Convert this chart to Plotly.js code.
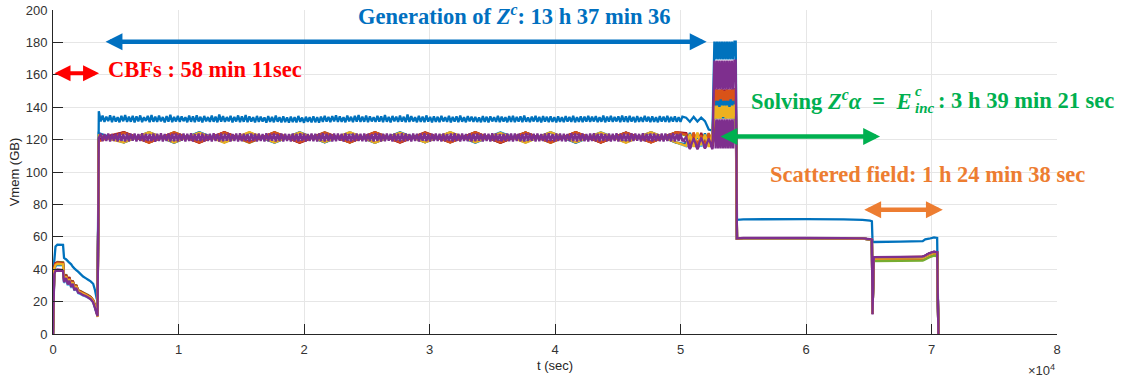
<!DOCTYPE html>
<html>
<head>
<meta charset="utf-8">
<script src="https://cdn.plot.ly/plotly-3.0.1.min.js"></script>
<style>
  html, body { margin: 0; padding: 0; background: #ffffff; }
  #chart { width: 1136px; height: 382px; }
</style>
</head>
<body>
<div id="chart"></div>
<script>
// ---- Memory usage per process (GB) over wall-clock time (s) ----

// Phase 1: CBF computation
const tCbf = [0, 100, 200, 350, 800, 880, 1050, 1180, 1300, 1450, 1580, 1700, 1850, 2000, 2200, 2400, 2600, 2800, 3000, 3200, 3350, 3480, 3550];
const cbfVals = [
  [0, 45, 54, 55.2, 55, 47, 46, 45, 44, 43, 41.5, 40.5, 39.5, 38.5, 37, 35.5, 34.5, 33.5, 32.5, 31, 27, 22, 20.5],
  [0, 41, 43.5, 44, 43.8, 34, 36, 32, 34.5, 30.5, 32.5, 28.5, 30, 26.8, 26, 25.2, 24.5, 23.6, 22.8, 20.8, 17.5, 14, 12.2],
  [0, 40, 42.8, 43.5, 43.2, 33.5, 35.6, 31.5, 34, 30, 32, 28, 29.6, 26.5, 25.8, 25, 24.2, 23.3, 22.4, 20.5, 17, 13.5, 10.8],
  [0, 37.5, 39.5, 39.8, 39.5, 32.5, 35, 31, 33.5, 29.5, 31.5, 27.5, 29, 26, 25.5, 24.5, 24, 23, 22, 20, 16.5, 13, 11.5],
  [0, 40.5, 43, 44.5, 44.2, 35, 36.8, 32.8, 35, 31, 33, 29, 30.5, 27, 26.5, 25.6, 24.8, 24, 23, 21, 18, 14.5, 12.5],
  [0, 39, 42, 42.5, 42.3, 31.5, 34, 30, 32.5, 28.5, 30.8, 26.8, 28.2, 25.2, 24.6, 23.8, 23.2, 22.4, 21.6, 19.6, 16, 12.8, 11.5],
  [0, 41.5, 43.8, 44.2, 43.9, 34.5, 36.5, 32.5, 35.2, 31, 32.8, 28.8, 30.2, 26.9, 26.2, 25.4, 24.6, 23.8, 22.8, 20.8, 17.2, 13.8, 12],
  [0, 39.5, 42.2, 43, 42.8, 32.8, 35.2, 31.2, 33.8, 29.8, 31.8, 27.8, 29.3, 26.2, 25.5, 24.7, 24, 23.1, 22.2, 20.2, 16.8, 13.2, 11.8],
  [0, 40.8, 43.2, 43.8, 43.5, 33.8, 35.8, 31.8, 34.2, 30.2, 32.2, 28.2, 29.8, 26.6, 25.9, 25.1, 24.3, 23.4, 22.6, 20.6, 17.3, 13.6, 11.2],
  [0, 40.2, 42.6, 43.3, 43, 33.2, 35.4, 31.4, 33.9, 29.9, 31.9, 27.9, 29.4, 26.3, 25.6, 24.8, 24.1, 23.2, 22.3, 20.3, 16.9, 13.4, 10.5],
  [0, 37, 39, 39.2, 39, 32, 34.5, 30.5, 33, 29, 31, 27, 28.5, 25.5, 25, 24, 23.5, 22.5, 21.5, 19.5, 16, 12.5, 11]
];

// Phase 2: generation of the coupling matrix, fine sampling (first and last process)
const tGen = [
  3650, 3800, 3950, 4100, 4250, 4400, 4550, 4700, 4850, 5000, 5150, 5300, 5450, 5600, 5750, 5900, 6050, 6200, 6350, 6500,
  6650, 6800, 6950, 7100, 7250, 7400, 7550, 7700, 7850, 8000, 8150, 8300, 8450, 8600, 8750, 8900, 9050, 9200, 9350, 9500,
  9650, 9800, 9950, 10100, 10250, 10400, 10550, 10700, 10850, 11000, 11150, 11300, 11450, 11600, 11750, 11900, 12050, 12200, 12350, 12500,
  12650, 12800, 12950, 13100, 13250, 13400, 13550, 13700, 13850, 14000, 14150, 14300, 14450, 14600, 14750, 14900, 15050, 15200, 15350, 15500,
  15650, 15800, 15950, 16100, 16250, 16400, 16550, 16700, 16850, 17000, 17150, 17300, 17450, 17600, 17750, 17900, 18050, 18200, 18350, 18500,
  18650, 18800, 18950, 19100, 19250, 19400, 19550, 19700, 19850, 20000, 20150, 20300, 20450, 20600, 20750, 20900, 21050, 21200, 21350, 21500,
  21650, 21800, 21950, 22100, 22250, 22400, 22550, 22700, 22850, 23000, 23150, 23300, 23450, 23600, 23750, 23900, 24050, 24200, 24350, 24500,
  24650, 24800, 24950, 25100, 25250, 25400, 25550, 25700, 25850, 26000, 26150, 26300, 26450, 26600, 26750, 26900, 27050, 27200, 27350, 27500,
  27650, 27800, 27950, 28100, 28250, 28400, 28550, 28700, 28850, 29000, 29150, 29300, 29450, 29600, 29750, 29900, 30050, 30200, 30350, 30500,
  30650, 30800, 30950, 31100, 31250, 31400, 31550, 31700, 31850, 32000, 32150, 32300, 32450, 32600, 32750, 32900, 33050, 33200, 33350, 33500,
  33650, 33800, 33950, 34100, 34250, 34400, 34550, 34700, 34850, 35000, 35150, 35300, 35450, 35600, 35750, 35900, 36050, 36200, 36350, 36500,
  36650, 36800, 36950, 37100, 37250, 37400, 37550, 37700, 37850, 38000, 38150, 38300, 38450, 38600, 38750, 38900, 39050, 39200, 39350, 39500,
  39650, 39800, 39950, 40100, 40250, 40400, 40550, 40700, 40850, 41000, 41150, 41300, 41450, 41600, 41750, 41900, 42050, 42200, 42350, 42500,
  42650, 42800, 42950, 43100, 43250, 43400, 43550, 43700, 43850, 44000, 44150, 44300, 44450, 44600, 44750, 44900, 45050, 45200, 45350, 45500,
  45650, 45800, 45950, 46100, 46250, 46400, 46550, 46700, 46850, 47000, 47150, 47300, 47450, 47600, 47750, 47900, 48050, 48200, 48350, 48500,
  48650, 48800, 48950, 49100, 49250, 49400, 49550, 49700, 49850, 50000, 50150
];
const genTop = [
  137.5, 131.2, 134.8, 130.9, 134.2, 131.4, 135.0, 130.8, 134.5, 131.1, 133.9, 130.7, 134.6, 131.3, 135.2, 130.9, 134.1, 131.0, 134.7, 130.6,
  134.3, 131.2, 134.9, 130.8, 133.8, 131.5, 134.6, 130.7, 135.1, 131.0, 134.2, 130.9, 134.8, 131.3, 133.9, 130.6, 134.5, 131.1, 135.3, 130.8,
  134.0, 131.2, 134.7, 130.9, 134.3, 131.4, 133.8, 130.7, 134.9, 131.0, 134.4, 130.8, 135.0, 131.2, 134.1, 130.6, 134.6, 131.3, 133.9, 130.9,
  134.8, 131.0, 134.2, 130.7, 135.4, 131.1, 134.5, 130.9, 133.9, 131.3, 134.7, 130.6, 134.0, 131.2, 134.9, 130.8, 134.3, 131.0, 135.1, 130.7,
  134.4, 131.1, 133.8, 130.6, 134.6, 130.9, 134.1, 131.2, 133.7, 130.5, 134.5, 130.9, 134.0, 130.7, 134.8, 131.0, 133.9, 130.6, 134.3, 130.8,
  133.7, 130.5, 134.2, 130.8, 133.9, 130.6, 134.6, 131.0, 133.6, 130.4, 134.1, 130.9, 133.8, 130.6, 134.4, 130.7, 133.9, 130.5, 134.2, 130.9,
  134.7, 131.1, 134.0, 130.8, 134.5, 131.2, 135.0, 130.9, 134.3, 131.0, 133.9, 130.7, 134.8, 131.3, 134.1, 130.8, 134.6, 131.1, 135.2, 130.9,
  134.2, 131.0, 134.9, 130.7, 134.4, 131.2, 133.9, 130.9, 134.7, 131.1, 134.3, 130.8, 135.1, 131.0, 134.0, 130.6, 134.6, 131.3, 134.2, 130.9,
  134.8, 131.1, 134.1, 130.8, 135.4, 130.9, 134.5, 131.2, 133.8, 130.7, 134.6, 131.0, 134.2, 130.8, 134.9, 131.1, 134.0, 130.6, 134.4, 131.0,
  134.1, 130.8, 134.6, 131.2, 133.9, 130.9, 134.7, 130.6, 134.0, 131.1, 134.4, 130.8, 134.9, 131.0, 133.8, 130.7, 134.5, 131.2, 134.2, 130.9,
  134.0, 130.9, 133.7, 130.7, 134.5, 131.0, 134.1, 130.6, 134.4, 131.2, 133.9, 130.9, 134.6, 130.8, 134.2, 131.1, 133.8, 130.7, 134.5, 131.0,
  134.6, 130.8, 134.0, 131.1, 134.3, 130.7, 134.8, 131.0, 133.7, 130.8, 134.2, 131.2, 134.7, 130.9, 134.0, 130.6, 134.5, 131.1, 134.1, 130.8,
  134.4, 130.9, 133.9, 130.6, 134.3, 131.0, 133.8, 130.8, 134.5, 131.1, 134.0, 130.9, 134.6, 130.7, 133.9, 131.0, 134.4, 130.8, 134.2, 131.1,
  134.7, 130.9, 134.1, 131.2, 134.5, 130.8, 133.9, 131.0, 134.8, 130.7, 134.2, 131.1, 134.6, 130.9, 134.0, 131.2, 134.4, 130.8, 134.9, 131.0,
  134.3, 130.8, 134.6, 131.1, 134.0, 130.7, 134.5, 131.0, 133.9, 130.9, 134.7, 131.2, 134.1, 130.8, 134.4, 131.0, 133.8, 130.7, 134.5, 131.1,
  134.2, 130.9, 134.6, 130.8, 134.0, 131.1, 134.3, 130.9, 133.9, 131.0, 134.2
];
const genLast = [
  121.0, 123.7, 119.0, 123.5, 119.2, 123.8, 118.8, 123.4, 119.1, 123.6, 118.9, 123.9, 119.2, 123.5, 118.8, 123.7, 119.0, 123.6, 119.3, 123.8,
  118.9, 123.5, 119.1, 123.9, 118.8, 123.6, 119.2, 123.4, 119.0, 123.8, 118.7, 123.6, 119.1, 123.9, 118.9, 123.5, 119.2, 123.7, 118.8, 123.6,
  119.0, 123.8, 118.9, 123.5, 119.3, 123.7, 118.8, 123.6, 119.1, 123.9, 118.9, 123.4, 119.2, 123.7, 119.0, 123.8, 118.8, 123.5, 119.1, 123.6,
  118.9, 123.9, 119.2, 123.5, 118.8, 123.7, 119.0, 123.6, 119.3, 123.8, 118.9, 123.5, 119.1, 123.7, 118.8, 123.9, 119.0, 123.6, 119.2, 123.4,
  118.8, 123.7, 119.1, 123.6, 118.9, 123.8, 119.2, 123.5, 118.8, 123.9, 119.0, 123.6, 119.3, 123.7, 118.9, 123.5, 119.1, 123.8, 118.8, 123.6,
  119.2, 123.5, 118.9, 123.8, 119.0, 123.6, 118.8, 123.9, 119.1, 123.7, 118.9, 123.5, 119.2, 123.8, 119.0, 123.6, 118.8, 123.7, 119.1, 123.9,
  118.9, 123.6, 119.2, 123.5, 118.8, 123.8, 119.0, 123.7, 119.3, 123.6, 118.9, 123.9, 119.1, 123.5, 118.8, 123.7, 119.0, 123.8, 119.2, 123.6,
  119.0, 123.8, 118.8, 123.6, 119.1, 123.5, 118.9, 123.9, 119.2, 123.7, 118.8, 123.6, 119.0, 123.8, 119.3, 123.5, 118.9, 123.7, 119.1, 123.6,
  118.8, 123.9, 119.0, 123.7, 119.2, 123.5, 118.9, 123.8, 119.1, 123.6, 118.8, 123.7, 119.3, 123.9, 119.0, 123.5, 118.9, 123.6, 119.2, 123.8,
  119.1, 123.6, 118.9, 123.8, 119.0, 123.5, 119.2, 123.7, 118.8, 123.9, 119.1, 123.6, 118.9, 123.8, 119.2, 123.5, 119.0, 123.7, 118.8, 123.6,
  119.0, 123.7, 119.3, 123.5, 118.9, 123.8, 119.1, 123.6, 118.8, 123.9, 119.0, 123.7, 119.2, 123.5, 118.9, 123.6, 119.1, 123.8, 119.0, 123.7,
  118.9, 123.8, 119.2, 123.6, 119.0, 123.5, 118.8, 123.9, 119.1, 123.7, 119.3, 123.6, 118.9, 123.8, 119.0, 123.5, 119.2, 123.7, 118.8, 123.9,
  119.1, 123.5, 118.9, 123.7, 119.2, 123.8, 119.0, 123.6, 118.8, 123.5, 119.1, 123.9, 119.0, 123.7, 118.9, 123.6, 119.3, 123.8, 119.0, 123.5,
  118.8, 123.7, 119.1, 123.9, 119.0, 123.6, 118.9, 123.8, 119.2, 123.5, 119.0, 123.7, 118.8, 123.6, 119.1, 123.9, 118.9, 123.5, 119.2, 123.8,
  119.0, 123.6, 118.9, 123.8, 119.1, 123.7, 119.3, 123.5, 118.8, 123.9, 119.0, 123.6, 119.2, 123.8, 118.9, 123.7, 119.1, 123.5, 119.0, 123.8,
  118.9, 123.7, 119.2, 123.6, 119.0, 123.9, 118.8, 123.5, 119.1, 123.7, 119.0
];
// coarser sampling for the processes in between
const tGenC = [3650, 5650, 7650, 9650, 11650, 13650, 15650, 17650, 19650, 21650, 23650, 25650,
  27650, 29650, 31650, 33650, 35650, 37650, 39650, 41650, 43650, 45650, 47650, 49650];
const genMid = [
  [121.0, 124.5, 118.3, 124.2, 118.1, 124.6, 118.5, 124.3, 118.2, 124.5, 118.4, 124.1, 118.2, 124.6, 118.5, 124.3, 118.1, 124.4, 118.3, 124.5, 118.2, 124.2, 118.6, 124.4],
  [122.0, 118.2, 124.6, 118.4, 124.3, 118.1, 124.5, 118.5, 124.2, 118.3, 124.6, 118.2, 124.1, 118.4, 124.5, 118.6, 124.3, 118.1, 124.4, 118.3, 124.2, 118.5, 124.6, 118.2],
  [120.5, 124.3, 118.4, 124.0, 118.9, 124.4, 118.6, 123.9, 118.8, 124.2, 118.5, 124.1, 118.7, 124.3, 118.4, 124.0, 118.9, 124.2, 118.6, 123.9, 118.5, 124.4, 118.8, 124.1],
  [119.5, 124.4, 118.2, 124.6, 118.5, 124.2, 118.1, 124.5, 118.3, 124.3, 118.2, 124.6, 118.6, 124.1, 118.3, 124.5, 118.2, 124.4, 118.1, 124.6, 118.4, 124.2, 118.3, 124.5],
  [123.0, 118.3, 124.3, 118.2, 124.5, 118.6, 124.1, 118.1, 124.4, 118.3, 124.6, 118.2, 124.2, 118.5, 124.4, 118.1, 124.6, 118.3, 124.3, 118.2, 124.5, 118.4, 124.1, 118.3],
  [120.0, 124.6, 118.4, 124.2, 118.2, 124.5, 118.6, 124.4, 118.1, 124.1, 118.3, 124.6, 118.2, 124.3, 118.5, 124.5, 118.1, 124.2, 118.4, 124.6, 118.2, 124.3, 118.3, 124.5],
  [124.0, 118.4, 124.5, 118.1, 124.6, 118.5, 124.3, 118.2, 124.5, 118.3, 124.1, 118.1, 124.6, 118.4, 124.4, 118.2, 124.2, 118.5, 124.5, 118.1, 124.3, 118.3, 124.6, 118.2],
  [119.0, 124.2, 118.1, 124.6, 118.4, 124.4, 118.2, 124.5, 118.3, 124.3, 118.2, 124.5, 118.5, 124.1, 118.2, 124.6, 118.3, 124.4, 118.1, 124.5, 118.4, 124.3, 118.2, 124.5],
  [122.5, 118.3, 124.5, 118.2, 124.2, 118.4, 124.6, 118.2, 124.4, 118.5, 124.5, 118.1, 124.3, 118.3, 124.5, 118.4, 124.1, 118.2, 124.6, 118.3, 124.4, 118.1, 124.5, 118.3]
];

// end of generation: memory drop before the assembly burst
const tDip = [50450, 50750, 51050, 51350, 51650, 51950, 52250, 52550];
const dipVals = [
  [133.5, 131.0, 134.0, 131.2, 133.6, 131.4, 126.2, 125.6],
  [123.8, 116.0, 124.2, 115.2, 123.5, 116.5, 124.0, 115.8],
  [116.5, 123.9, 115.4, 124.3, 116.2, 123.6, 115.5, 124.1],
  [118.0, 114.2, 119.5, 114.0, 118.8, 114.5, 119.2, 114.1],
  [122.5, 115.8, 123.6, 116.4, 122.8, 115.6, 123.4, 116.0],
  [115.9, 122.6, 116.2, 123.2, 115.7, 122.9, 116.4, 123.0],
  [124.0, 117.0, 122.8, 116.0, 124.2, 116.8, 122.6, 115.9],
  [117.2, 124.1, 116.8, 122.9, 117.0, 123.8, 116.6, 123.3],
  [123.0, 116.5, 124.3, 117.0, 122.7, 116.2, 123.9, 116.7],
  [116.2, 123.4, 115.8, 124.0, 116.6, 123.1, 116.0, 123.7],
  [121.5, 114.8, 120.8, 114.6, 121.2, 115.0, 120.5, 114.7]
];

// matrix assembly burst
const tPeak = [52700, 52800, 52900, 53000, 53100, 53200, 53300, 53400, 53500, 53600, 53700, 53800, 53900, 54000, 54100, 54200, 54300, 54400];
const peakVals = [
  [180.5, 169.5, 180.5, 169.5, 180.5, 169.5, 180.5, 169.5, 180.5, 169.5, 180.5, 169.5, 180.5, 169.5, 180.5, 169.5, 180.5, 180.5],
  [150, 138, 150, 138, 149, 138, 150, 139, 150, 138, 150, 138, 149, 138, 150, 138, 150, 150],
  [146, 133, 146, 134, 146, 133, 145, 133, 146, 133, 146, 134, 146, 133, 145, 133, 146, 146],
  [132.5, 114.5, 132.5, 114.5, 132.5, 114.5, 132.5, 114.5, 132.5, 114.5, 132.5, 114.5, 132.5, 114.5, 132.5, 114.5, 132.5, 132.5],
  [150, 141, 150, 141, 150, 142, 150, 141, 150, 141, 149, 141, 150, 141, 150, 142, 150, 150],
  [142, 133, 142, 133, 141, 133, 142, 134, 142, 133, 142, 133, 141, 133, 142, 133, 142, 142],
  [151, 136, 151, 136, 150, 136, 151, 137, 151, 136, 151, 136, 150, 136, 151, 136, 151, 151],
  [150, 133, 150, 134, 150, 133, 149, 133, 150, 133, 150, 134, 150, 133, 149, 133, 150, 150],
  [151, 144, 151, 144, 151, 145, 151, 144, 150, 144, 151, 144, 151, 145, 151, 144, 151, 151],
  [141, 133, 141, 133, 140, 133, 141, 134, 141, 133, 141, 133, 140, 133, 141, 133, 141, 141],
  [168.8, 151, 168.8, 151, 168.8, 151, 168.8, 151, 168.8, 151, 168.8, 151, 168.8, 151, 168.8, 151, 168.8, 168.8]
];

// Phase 3 (solving) and phase 4 (scattered field)
const tTail = [54500, 55000, 60000, 63000, 64500, 65100, 65250, 65300, 65400, 67500, 69300, 69500, 69800, 70200, 70450, 70550];
const tailVals = [
  [70.5, 70.8, 70.9, 70.8, 70.5, 70.0, 69.6, 57.0, 56.8, 57.0, 57.3, 58.4, 58.8, 59.6, 59.3, 0],
  [59.0, 59.2, 59.2, 59.1, 58.9, 58.4, 58.2, 12.5, 46.0, 46.1, 46.3, 47.0, 48.3, 49.4, 49.2, 0],
  [59.0, 59.2, 59.2, 59.1, 58.9, 58.4, 58.2, 12.5, 46.6, 46.7, 46.9, 47.6, 48.8, 49.9, 49.7, 0],
  [59.0, 59.2, 59.2, 59.1, 58.9, 58.4, 58.2, 12.5, 47.3, 47.4, 47.6, 48.3, 49.6, 50.6, 50.3, 0],
  [59.0, 59.2, 59.2, 59.1, 58.9, 58.4, 58.2, 12.5, 45.0, 45.1, 45.3, 46.0, 47.2, 48.3, 48.1, 0],
  [59.0, 59.2, 59.2, 59.1, 58.9, 58.4, 58.2, 12.5, 47.2, 47.3, 47.5, 48.2, 49.5, 50.5, 50.2, 0],
  [59.0, 59.2, 59.2, 59.1, 58.9, 58.4, 58.2, 12.5, 47.4, 47.5, 47.7, 48.4, 49.7, 50.7, 50.4, 0],
  [59.0, 59.2, 59.2, 59.1, 58.9, 58.4, 58.2, 12.5, 47.3, 47.4, 47.6, 48.3, 49.6, 50.6, 50.3, 0],
  [59.0, 59.2, 59.2, 59.1, 58.9, 58.4, 58.2, 12.5, 47.1, 47.2, 47.4, 48.1, 49.4, 50.4, 50.1, 0],
  [59.0, 59.2, 59.2, 59.1, 58.9, 58.4, 58.2, 12.5, 47.2, 47.3, 47.5, 48.2, 49.5, 50.5, 50.2, 0],
  [59.0, 59.3, 59.3, 59.2, 59.0, 58.5, 58.3, 12.0, 47.5, 47.6, 47.8, 48.5, 49.8, 50.8, 50.5, 0]
];

// Phase spans marked with double arrows: [start, end] in s, level in GB
const spanCbf = [0, 3670, 161];
const spanGen = [4070, 52080, 180.4];
const spanSolve = [53070, 65900, 121.9];
const spanScat = [64520, 70900, 76.7];

// x tick labels (units of 1e4 s)
const xTickVals = [0, 10000, 20000, 30000, 40000, 50000, 60000, 70000, 80000];
const xTickText = ['0', '1', '2', '3', '4', '5', '6', '7', '8'];

// MATLAB default colour order, cycling over the 11 processes
const seriesColors = ['#0072BD', '#D95319', '#EDB120', '#7E2F8E', '#77AC30', '#4DBEEE', '#A2142F',
                      '#0072BD', '#D95319', '#EDB120', '#7E2F8E'];

const traces = seriesColors.map((color, i) => {
  let genT, genV;
  if (i === 0) { genT = tGen; genV = genTop; }
  else if (i === seriesColors.length - 1) { genT = tGen; genV = genLast; }
  else { genT = tGenC; genV = genMid[i - 1]; }
  return {
    type: 'scatter',
    mode: 'lines',
    x: [].concat(tCbf, genT, tDip, tPeak, tTail),
    y: [].concat(cbfVals[i], genV, dipVals[i], peakVals[i], tailVals[i]),
    line: { color: color, width: 2.3, simplify: false },
    hoverinfo: 'skip',
    showlegend: false
  };
});

function spanArrow(span, color, width, size) {
  return {
    x: span[1], y: span[2], ax: span[0], ay: span[2],
    xref: 'x', yref: 'y', axref: 'x', ayref: 'y',
    text: '', showarrow: true, arrowhead: 2, arrowside: 'end+start',
    arrowsize: size, arrowwidth: width, arrowcolor: color,
    standoff: 0, startstandoff: 0
  };
}

const serif = 'Liberation Serif, Times New Roman, serif';
function label(x, y, text, color, size, xanchor) {
  return {
    x: x, y: y, xref: 'x', yref: 'y', text: text, showarrow: false,
    xanchor: xanchor || 'center', yanchor: 'middle',
    font: { family: serif, size: size, color: color }
  };
}

const cBlue = '#0070C0', cRed = '#FF0000', cGreen = '#00B050', cOrange = '#ED7D31';
const nb = '\u00A0';

const annotations = [
  spanArrow(spanCbf, cRed, 4, 0.8),
  spanArrow(spanGen, cBlue, 4.5, 0.75),
  spanArrow(spanSolve, cGreen, 4.5, 0.75),
  spanArrow(spanScat, cOrange, 4.5, 0.75),
  label(36740, 196.9, '<b>Generation of <i>Z</i><sup><i>c</i></sup>: 13 h 37 min 36</b>', cBlue, 22.5),
  label(12090, 163.0, '<b>CBFs : 58 min 11sec</b>', cRed, 22.5),
  label(68530, 144.4, '<b>Solving <i>Z</i><sup><i>c</i></sup><i>α</i>' + nb + ' =' + nb + ' <i>E</i></b>', cGreen, 22.5, 'right'),
  label(68530, 150.0, '<b><i>c</i></b>', cGreen, 15, 'left'),
  label(68530, 139.3, '<b><i>inc</i></b>', cGreen, 15, 'left'),
  label(70360, 144.4, '<b>: 3 h 39 min 21 sec</b>', cGreen, 22.5, 'left'),
  label(69690, 98.2, '<b>Scattered field: 1 h 24 min 38 sec</b>', cOrange, 22.5),
  {
    x: 1, y: -0.11, xref: 'paper', yref: 'paper', xanchor: 'right', yanchor: 'middle',
    text: '×10<sup>4</sup>', showarrow: false,
    font: { family: 'Liberation Sans, Arial, sans-serif', size: 13, color: '#333333' }
  }
];

const axisCommon = {
  showline: true, linecolor: '#262626', linewidth: 1,
  ticks: 'inside', ticklen: 10, tickwidth: 1, tickcolor: '#262626',
  showgrid: true, gridcolor: '#e6e6e6', gridwidth: 1,
  zeroline: false, mirror: false,
  tickfont: { family: 'Liberation Sans, Arial, sans-serif', size: 13, color: '#333333' }
};

const layout = {
  width: 1136, height: 382,
  margin: { l: 53, r: 79, t: 10, b: 48 },
  paper_bgcolor: '#ffffff', plot_bgcolor: '#ffffff',
  font: { family: 'Liberation Sans, Arial, sans-serif', color: '#262626' },
  xaxis: Object.assign({}, axisCommon, {
    range: [0, 80000], tickmode: 'array', tickvals: xTickVals, ticktext: xTickText,
    ticklabelstandoff: 3,
    title: { text: 't (sec)', font: { size: 13, color: '#262626' }, standoff: 5 }
  }),
  yaxis: Object.assign({}, axisCommon, {
    range: [0, 200], tickmode: 'linear', tick0: 0, dtick: 20,
    ticklabelstandoff: 2,
    title: { text: 'Vmem (GB)', font: { size: 13, color: '#262626' }, standoff: 3 }
  }),
  annotations: annotations,
  hovermode: false
};

Plotly.newPlot('chart', traces, layout, { displayModeBar: false, staticPlot: true });
</script>
</body>
</html>
